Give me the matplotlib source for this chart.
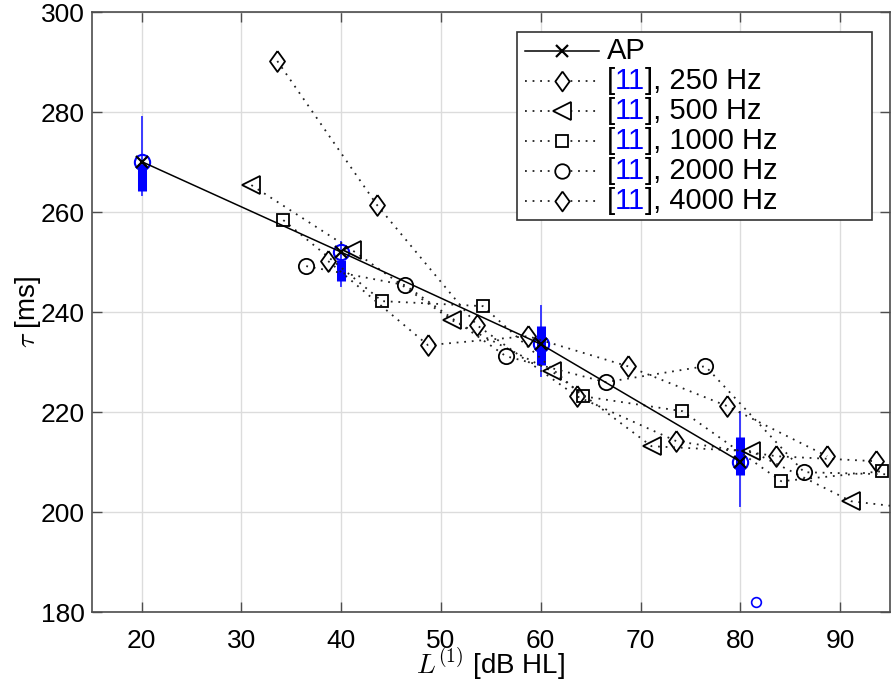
import matplotlib
matplotlib.use("Agg")
import matplotlib.pyplot as plt
from matplotlib.lines import Line2D
from matplotlib.patches import Rectangle

plt.rcParams["font.family"] = ["Liberation Sans", "DejaVu Sans"]
plt.rcParams["mathtext.fontset"] = "cm"

# --- AP model (solid line with x) ---
AP_L = [20, 40, 60, 80]
AP_TAU = [270.1, 252.0, 233.6, 210.1]

# --- blue box summaries at the AP levels ---
BOX_Q1 = [264.2, 246.2, 229.4, 207.4]
BOX_Q3 = [269.6, 250.5, 237.2, 215.0]
WHISK_LO = [263.4, 245.2, 227.2, 201.2]
WHISK_HI = [279.1, 254.0, 241.2, 220.0]
OUTLIER_L = [81.6]
OUTLIER_TAU = [182.1]

# --- reference [11] data per frequency ---
L_250 = [33.6, 43.6, 53.6, 63.6, 73.6, 83.6, 93.6]
T_250 = [290.2, 261.4, 237.4, 223.2, 214.2, 211.2, 210.2]
L_500 = [31.0, 41.1, 51.1, 61.1, 71.1, 81.1, 91.1, 101.1]
T_500 = [265.4, 252.4, 238.4, 228.2, 213.2, 212.2, 202.2, 199.9]
L_1000 = [34.2, 44.1, 54.2, 64.2, 74.2, 84.1, 94.2]
T_1000 = [258.4, 242.2, 241.2, 223.2, 220.2, 206.2, 208.2]
L_2000 = [36.5, 46.4, 56.5, 66.5, 76.5, 86.4, 96.4]
T_2000 = [249.2, 245.4, 231.2, 226.0, 229.2, 208.0, 207.5]
L_4000 = [38.7, 48.7, 58.7, 68.7, 78.7, 88.7]
T_4000 = [250.2, 233.4, 235.2, 229.2, 221.2, 211.2]

# MATLAB-like diamond (wider than matplotlib's thin 'd')
DIAMOND = [(0, 1), (0.72, 0), (0, -1), (-0.72, 0), (0, 1)]

SERIES = [
    ("250 Hz", L_250, T_250, DIAMOND, 15),
    ("500 Hz", L_500, T_500, "<", 13.5),
    ("1000 Hz", L_1000, T_1000, "s", 9),
    ("2000 Hz", L_2000, T_2000, "o", 11),
    ("4000 Hz", L_4000, T_4000, DIAMOND, 15),
]
DOT = (0, (1.0, 3.2))
BLUE = "#0000ff"
FS = 19
LFS = 21

W, H = 894, 684
fig = plt.figure(figsize=(W / 100, H / 100), dpi=100)
ax = fig.add_axes([91.7 / W, 1 - 612.3 / H, (890 - 91.7) / W, (612.3 - 12) / H])

# box summaries
for x, q1, q3, lo, hi in zip(AP_L, BOX_Q1, BOX_Q3, WHISK_LO, WHISK_HI):
    ax.plot([x, x], [lo, hi], color="#3a3aff", lw=1.4, zorder=3)
    ax.plot([x, x], [q1, q3], color=BLUE, lw=6.5, solid_capstyle="butt", zorder=3)
ax.plot(AP_L, AP_TAU, ls="none", marker="o", ms=11, mfc="none", mec=BLUE, mew=1.5, zorder=4)
ax.plot(OUTLIER_L, OUTLIER_TAU, ls="none", marker="o", ms=7, mfc="none", mec=BLUE, mew=1.2, zorder=4)

# reference data
for name, xs, ys, mk, ms in SERIES:
    ax.plot(xs, ys, ls=DOT, lw=1.3, color="#222222", marker=mk, ms=ms,
            mfc="none", mec="black", mew=1.3, zorder=5)

ax.plot(AP_L, AP_TAU, color="black", lw=1.1, marker="x", ms=9, mew=1.6, zorder=6)

ax.set_xlim(15, 95)
ax.set_ylim(180, 300)
ax.set_xticks(range(20, 91, 10))
ax.set_yticks(range(180, 301, 20))
ax.grid(True, color="#dcdcdc", lw=1.0)
ax.set_axisbelow(True)
ax.tick_params(direction="in", length=7, width=1, color="#4d4d4d", labelsize=FS,
               top=True, right=True)
ax.tick_params(axis="x", pad=12)
ax.tick_params(axis="y", pad=5)
for sp in ax.spines.values():
    sp.set_color("#4d4d4d")
    sp.set_linewidth(1.2)

ax.set_xlabel(r"$L^{(1)}$ [dB HL]", fontsize=20, labelpad=-5)
ax.set_ylabel(r"$\tau$ [ms]", fontsize=20, labelpad=-2)

# --- legend drawn by hand (box, handles, two-colour labels) ---
def fx(px):
    return px / W


def fy(py):
    return 1 - py / H


tf = fig.transFigure
ax.add_patch(Rectangle((fx(517), fy(220)), fx(872) - fx(517), fy(32) - fy(220),
                       transform=tf, facecolor="white", edgecolor="#333333",
                       lw=1.2, zorder=10, clip_on=False))
ROW_Y = [51, 81, 111, 141, 171, 201.5]
ax.add_line(Line2D([fx(525), fx(599)], [fy(ROW_Y[0])] * 2, transform=tf, color="black",
                   lw=1.1, zorder=11, clip_on=False))
ax.add_line(Line2D([fx(562)], [fy(ROW_Y[0])], transform=tf, color="black", marker="x",
                   ms=9, mew=1.6, zorder=12, clip_on=False))
fig.text(fx(607), fy(ROW_Y[0]), "AP", fontsize=LFS, va="center", ha="left", zorder=12)
for (name, xs, ys, mk, ms), y in zip(SERIES, ROW_Y[1:]):
    ax.add_line(Line2D([fx(525), fx(599)], [fy(y)] * 2, transform=tf, ls=DOT, lw=1.3,
                       color="#222222", zorder=11, clip_on=False))
    ax.add_line(Line2D([fx(562)], [fy(y)], transform=tf, marker=mk, ms=ms * 0.95,
                       mfc="white", mec="black", mew=1.3, zorder=12, clip_on=False))
    t = fig.text(fx(607), fy(y), "[", fontsize=LFS, va="center", ha="left", zorder=12)
    t = ax.annotate("11", xy=(1, 0), xycoords=t, va="bottom", ha="left",
                    fontsize=LFS, color=BLUE, zorder=12, annotation_clip=False)
    ax.annotate("], " + name, xy=(1, 0), xycoords=t, va="bottom", ha="left",
                fontsize=LFS, zorder=12, annotation_clip=False)

fig.savefig("out.png", dpi=100)
